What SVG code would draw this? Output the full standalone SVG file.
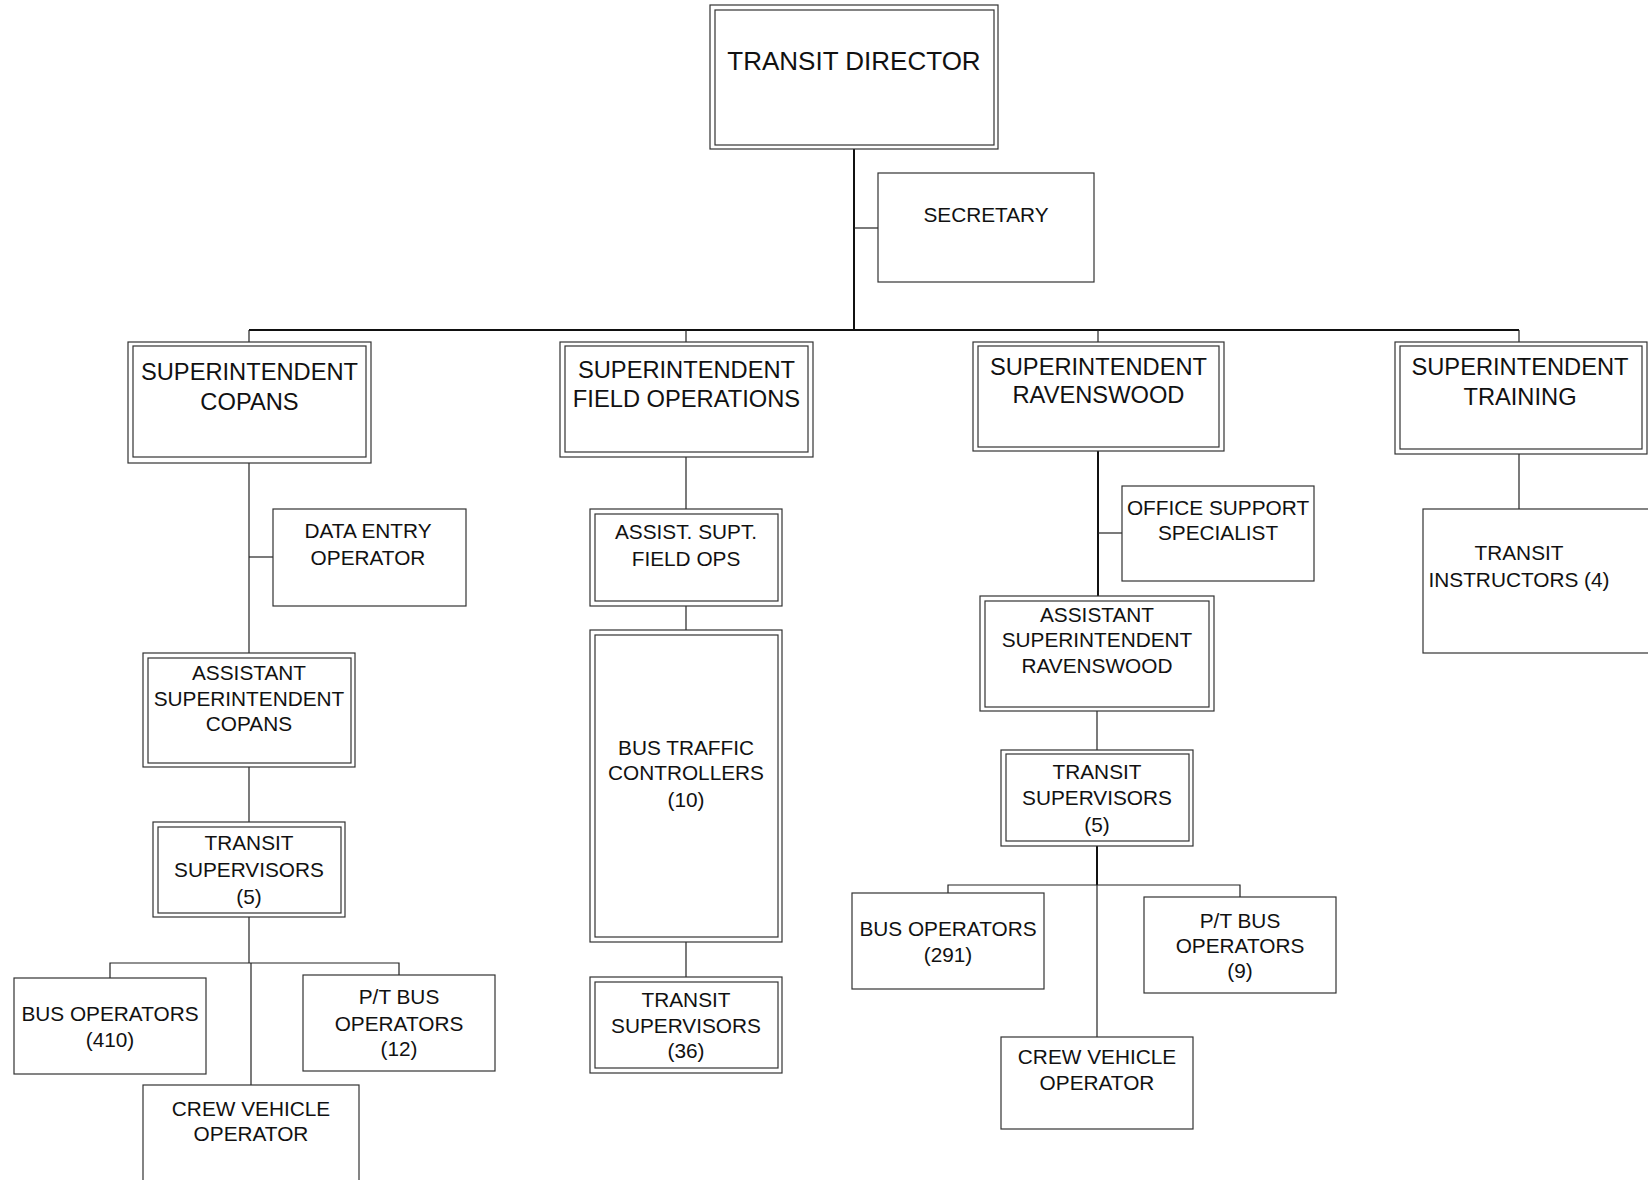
<svg xmlns="http://www.w3.org/2000/svg" width="1648" height="1180" viewBox="0 0 1648 1180">
<style>
  .box { fill: #fff; stroke: #333; stroke-width: 1.2; }
  .in { fill: none; stroke: #333; stroke-width: 1.2; }
  text { font-family: "Liberation Sans", Arial, sans-serif; fill: #111; text-anchor: middle; }
  .big { font-size: 23.7px; }
  .sm { font-size: 20.8px; }
  .ttl { font-size: 26px; }
  .c { stroke: #222; stroke-width: 1.2; fill: none; }
  .ct { stroke: #111; stroke-width: 2; fill: none; }
</style>
<rect width="1648" height="1180" fill="#fff"/>
<g id="connectors">
  <line class="ct" x1="854" y1="149" x2="854" y2="330"/>
  <line class="c" x1="854" y1="228" x2="878" y2="228"/>
  <line class="ct" x1="249" y1="330" x2="1519" y2="330" stroke-width="1.6"/>
  <line class="c" x1="249" y1="330" x2="249" y2="342"/>
  <line class="c" x1="686" y1="330" x2="686" y2="342"/>
  <line class="c" x1="1098" y1="330" x2="1098" y2="342"/>
  <line class="c" x1="1519" y1="330" x2="1519" y2="342"/>
  <line class="c" x1="249" y1="463" x2="249" y2="653"/>
  <line class="c" x1="249" y1="557" x2="273" y2="557"/>
  <line class="c" x1="249" y1="767" x2="249" y2="822"/>
  <line class="c" x1="249" y1="917" x2="249" y2="963"/>
  <polyline class="c" points="110,978 110,963 399,963 399,975"/>
  <line class="c" x1="251" y1="963" x2="251" y2="1085"/>
  <line class="c" x1="686" y1="457" x2="686" y2="509"/>
  <line class="c" x1="686" y1="606" x2="686" y2="630"/>
  <line class="c" x1="686" y1="942" x2="686" y2="977"/>
  <line class="ct" x1="1098" y1="451" x2="1098" y2="596" stroke-width="1.6"/>
  <line class="c" x1="1098" y1="533" x2="1122" y2="533"/>
  <line class="c" x1="1097" y1="711" x2="1097" y2="750"/>
  <line class="ct" x1="1097" y1="846" x2="1097" y2="885" stroke-width="1.6"/>
  <polyline class="c" points="948,893 948,885 1240,885 1240,897"/>
  <line class="c" x1="1097" y1="885" x2="1097" y2="1037"/>
  <line class="c" x1="1519" y1="454" x2="1519" y2="509"/>
</g>
<g id="director">
  <rect class="box" x="710" y="5" width="288" height="144"/>
  <rect class="in" x="715" y="10" width="279" height="135"/>
  <text class="ttl" x="854" y="70">TRANSIT DIRECTOR</text>
</g>
<g id="secretary">
  <rect class="box" x="878" y="173" width="216" height="109"/>
  <text class="sm" x="986" y="222">SECRETARY</text>
</g>
<g id="supt-copans">
  <rect class="box" x="128" y="342" width="243" height="121"/>
  <rect class="in" x="133" y="346" width="233" height="111"/>
  <text class="big" x="249.5" y="380">SUPERINTENDENT</text>
  <text class="big" x="249.5" y="410">COPANS</text>
</g>
<g id="supt-field">
  <rect class="box" x="560" y="342" width="253" height="115"/>
  <rect class="in" x="565" y="346" width="243" height="106"/>
  <text class="big" x="686.5" y="378">SUPERINTENDENT</text>
  <text class="big" x="686.5" y="407">FIELD OPERATIONS</text>
</g>
<g id="supt-raven">
  <rect class="box" x="973" y="342" width="251" height="109"/>
  <rect class="in" x="978" y="346" width="241" height="101"/>
  <text class="big" x="1098.5" y="375">SUPERINTENDENT</text>
  <text class="big" x="1098.5" y="403">RAVENSWOOD</text>
</g>
<g id="supt-training">
  <rect class="box" x="1395" y="342" width="252" height="112"/>
  <rect class="in" x="1400" y="346" width="242" height="103"/>
  <text class="big" x="1520" y="375">SUPERINTENDENT</text>
  <text class="big" x="1520" y="405">TRAINING</text>
</g>
<g id="data-entry">
  <rect class="box" x="273" y="509" width="193" height="97"/>
  <text class="sm" x="368" y="538">DATA ENTRY</text>
  <text class="sm" x="368" y="565">OPERATOR</text>
</g>
<g id="asst-copans">
  <rect class="box" x="143" y="653" width="212" height="114"/>
  <rect class="in" x="148" y="658" width="203" height="105"/>
  <text class="sm" x="249" y="680">ASSISTANT</text>
  <text class="sm" x="249" y="705.5">SUPERINTENDENT</text>
  <text class="sm" x="249" y="731">COPANS</text>
</g>
<g id="ts-copans">
  <rect class="box" x="153" y="822" width="192" height="95"/>
  <rect class="in" x="158" y="827" width="183" height="86"/>
  <text class="sm" x="249" y="850">TRANSIT</text>
  <text class="sm" x="249" y="877">SUPERVISORS</text>
  <text class="sm" x="249" y="904">(5)</text>
</g>
<g id="busop-copans">
  <rect class="box" x="14" y="978" width="192" height="96"/>
  <text class="sm" x="110" y="1021">BUS OPERATORS</text>
  <text class="sm" x="110" y="1047">(410)</text>
</g>
<g id="ptbus-copans">
  <rect class="box" x="303" y="975" width="192" height="96"/>
  <text class="sm" x="399" y="1004">P/T BUS</text>
  <text class="sm" x="399" y="1030.5">OPERATORS</text>
  <text class="sm" x="399" y="1056">(12)</text>
</g>
<g id="crew-copans">
  <rect class="box" x="143" y="1085" width="216" height="120"/>
  <text class="sm" x="251" y="1115.5">CREW VEHICLE</text>
  <text class="sm" x="251" y="1140.5">OPERATOR</text>
</g>
<g id="asst-field">
  <rect class="box" x="590" y="509" width="192" height="97"/>
  <rect class="in" x="595" y="514" width="183" height="87"/>
  <text class="sm" x="686" y="539">ASSIST. SUPT.</text>
  <text class="sm" x="686" y="566">FIELD OPS</text>
</g>
<g id="bus-traffic">
  <rect class="box" x="590" y="630" width="192" height="312"/>
  <rect class="in" x="595" y="635" width="183" height="302"/>
  <text class="sm" x="686" y="755">BUS TRAFFIC</text>
  <text class="sm" x="686" y="780">CONTROLLERS</text>
  <text class="sm" x="686" y="807">(10)</text>
</g>
<g id="ts-field">
  <rect class="box" x="590" y="977" width="192" height="96"/>
  <rect class="in" x="595" y="982" width="183" height="86"/>
  <text class="sm" x="686" y="1007">TRANSIT</text>
  <text class="sm" x="686" y="1033">SUPERVISORS</text>
  <text class="sm" x="686" y="1058">(36)</text>
</g>
<g id="office-support">
  <rect class="box" x="1122" y="486" width="192" height="95"/>
  <text class="sm" x="1218" y="515">OFFICE SUPPORT</text>
  <text class="sm" x="1218" y="540">SPECIALIST</text>
</g>
<g id="asst-raven">
  <rect class="box" x="980" y="596" width="234" height="115"/>
  <rect class="in" x="985" y="601" width="224" height="106"/>
  <text class="sm" x="1097" y="622">ASSISTANT</text>
  <text class="sm" x="1097" y="647">SUPERINTENDENT</text>
  <text class="sm" x="1097" y="673">RAVENSWOOD</text>
</g>
<g id="ts-raven">
  <rect class="box" x="1001" y="750" width="192" height="96"/>
  <rect class="in" x="1006" y="754" width="183" height="87"/>
  <text class="sm" x="1097" y="779">TRANSIT</text>
  <text class="sm" x="1097" y="805">SUPERVISORS</text>
  <text class="sm" x="1097" y="832">(5)</text>
</g>
<g id="busop-raven">
  <rect class="box" x="852" y="893" width="192" height="96"/>
  <text class="sm" x="948" y="936">BUS OPERATORS</text>
  <text class="sm" x="948" y="962">(291)</text>
</g>
<g id="ptbus-raven">
  <rect class="box" x="1144" y="897" width="192" height="96"/>
  <text class="sm" x="1240" y="928">P/T BUS</text>
  <text class="sm" x="1240" y="953">OPERATORS</text>
  <text class="sm" x="1240" y="978">(9)</text>
</g>
<g id="crew-raven">
  <rect class="box" x="1001" y="1037" width="192" height="92"/>
  <text class="sm" x="1097" y="1064">CREW VEHICLE</text>
  <text class="sm" x="1097" y="1090">OPERATOR</text>
</g>
<g id="instructors">
  <rect class="box" x="1423" y="509" width="240" height="144"/>
  <text class="sm" x="1519" y="560">TRANSIT</text>
  <text class="sm" x="1519" y="587">INSTRUCTORS (4)</text>
</g>
</svg>
